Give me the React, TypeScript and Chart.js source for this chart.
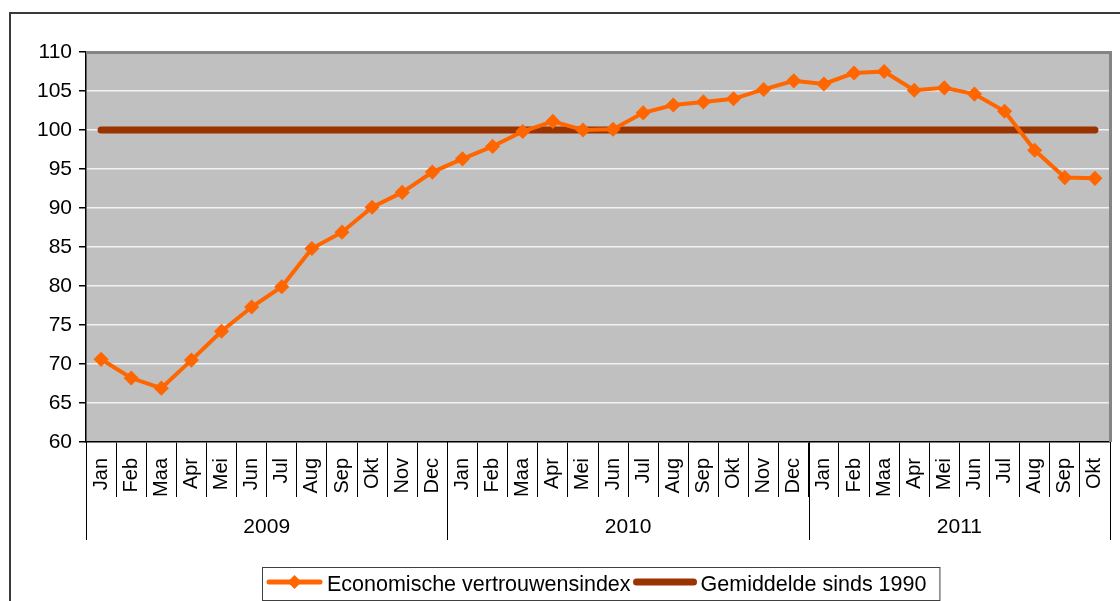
import React, { useEffect, useRef } from "react";
import { Chart, registerables } from "chart.js";

Chart.register(...registerables);

const categories = [
  "Jan", "Feb", "Maa", "Apr", "Mei", "Jun", "Jul", "Aug", "Sep", "Okt", "Nov", "Dec",
  "Jan", "Feb", "Maa", "Apr", "Mei", "Jun", "Jul", "Aug", "Sep", "Okt", "Nov", "Dec",
  "Jan", "Feb", "Maa", "Apr", "Mei", "Jun", "Jul", "Aug", "Sep", "Okt",
];
const years = ["2009", "2010", "2011"];
const monthsPerYear = [12, 12, 10];

const confidenceIndex = [
  70.6, 68.2, 66.9, 70.5, 74.2, 77.3, 79.9, 84.8, 86.9, 90.1, 92.0, 94.6,
  96.3, 97.9, 99.8, 101.1, 100.0, 100.1, 102.2, 103.2, 103.6, 104.0, 105.2, 106.3,
  105.9, 107.3, 107.5, 105.1, 105.4, 104.6, 102.4, 97.4, 93.9, 93.8,
];
const averageSince1990 = [
  100, 100, 100, 100, 100, 100, 100, 100, 100, 100, 100, 100,
  100, 100, 100, 100, 100, 100, 100, 100, 100, 100, 100, 100,
  100, 100, 100, 100, 100, 100, 100, 100, 100, 100,
];
const seriesLabels = ["Economische vertrouwensindex", "Gemiddelde sinds 1990"];
const yMin = 60;
const yMax = 110;
const yStep = 5;

const FONT = "'Liberation Sans', Arial, Helvetica, sans-serif";
const ORANGE = "#ff6600";
const BROWN = "#993300";

const decorPlugin = {
  id: "decor",
  beforeDraw(chart: any) {
    const { ctx, chartArea: a } = chart;
    ctx.save();
    ctx.strokeStyle = "#3a3a3a";
    ctx.lineWidth = 2;
    ctx.strokeRect(10, 13, 1300, 800);
    ctx.fillStyle = "#c0c0c0";
    ctx.fillRect(a.left, a.top, a.right - a.left, a.bottom - a.top);
    ctx.restore();
  },
  beforeDatasetsDraw(chart: any) {
    const { ctx, chartArea: a } = chart;
    ctx.save();
    ctx.strokeStyle = "#848484";
    ctx.lineWidth = 3;
    ctx.beginPath();
    ctx.moveTo(a.left, a.top + 0.5);
    ctx.lineTo(a.right + 0.5, a.top + 0.5);
    ctx.lineTo(a.right + 0.5, a.bottom);
    ctx.stroke();
    ctx.restore();
  },
  afterDraw(chart: any) {
    const { ctx, chartArea: a } = chart;
    const xs = chart.scales.x;
    const half = (xs.getPixelForTick(1) - xs.getPixelForTick(0)) / 2;
    ctx.save();
    // year separators and labels
    ctx.strokeStyle = "#000";
    ctx.lineWidth = 1;
    ctx.fillStyle = "#000";
    ctx.font = `21px ${FONT}`;
    ctx.textAlign = "center";
    ctx.textBaseline = "alphabetic";
    let start = 0;
    years.forEach((yr, i) => {
      const n = monthsPerYear[i];
      const left = xs.getPixelForTick(start) - half;
      const right = xs.getPixelForTick(start + n - 1) + half;
      [left, right].forEach((px) => {
        const x = Math.round(px) + 0.5;
        ctx.beginPath();
        ctx.moveTo(x, a.bottom);
        ctx.lineTo(x, a.bottom + 98);
        ctx.stroke();
      });
      ctx.fillText(yr, (left + right) / 2, a.bottom + 91);
      start += n;
    });

    // legend
    const ds = chart.data.datasets;
    ctx.font = `21.5px ${FONT}`;
    ctx.textAlign = "left";
    const boxLeft = 262;
    const boxTop = 567;
    const midY = 582;
    let x = boxLeft + 7;
    const items: { x0: number; x1: number; tx: number; tw: number }[] = [];
    ds.forEach((d: any, i: number) => {
      const tw = ctx.measureText(d.label).width;
      const x0 = x;
      const x1 = x + (i === 0 ? 51 : 57);
      const tx = x1 + 7;
      items.push({ x0, x1, tx, tw });
      x = tx + tw + 6;
    });
    const boxRight = x + 7;
    ctx.strokeStyle = "#404040";
    ctx.lineWidth = 1;
    ctx.strokeRect(boxLeft + 0.5, boxTop + 0.5, boxRight - boxLeft, 600 - boxTop);
    ds.forEach((d: any, i: number) => {
      const it = items[i];
      ctx.strokeStyle = d.borderColor;
      ctx.lineWidth = i === 0 ? 5 : 7;
      ctx.lineCap = "round";
      ctx.beginPath();
      ctx.moveTo(it.x0, midY);
      ctx.lineTo(it.x1, midY);
      ctx.stroke();
      if (d.pointRadius > 0) {
        const cx = (it.x0 + it.x1) / 2;
        const r = 7;
        ctx.fillStyle = d.pointBackgroundColor;
        ctx.beginPath();
        ctx.moveTo(cx - r, midY);
        ctx.lineTo(cx, midY - r);
        ctx.lineTo(cx + r, midY);
        ctx.lineTo(cx, midY + r);
        ctx.closePath();
        ctx.fill();
      }
      ctx.fillStyle = "#000";
      ctx.fillText(d.label, it.tx, 591);
    });
    ctx.restore();
  },
};

export default function App() {
  const ref = useRef<HTMLCanvasElement | null>(null);

  useEffect(() => {
    if (!ref.current) return;
    const chart = new Chart(ref.current, {
      type: "line",
      data: {
        labels: categories,
        datasets: [
          {
            label: seriesLabels[0],
            data: confidenceIndex,
            borderColor: ORANGE,
            backgroundColor: ORANGE,
            pointBackgroundColor: ORANGE,
            pointBorderColor: ORANGE,
            borderWidth: 4,
            pointStyle: "rectRot",
            pointRadius: 6.5,
            pointBorderWidth: 1.5,
            tension: 0,
          },
          {
            label: seriesLabels[1],
            data: averageSince1990,
            borderColor: BROWN,
            backgroundColor: BROWN,
            borderWidth: 7,
            borderCapStyle: "round",
            pointRadius: 0,
            tension: 0,
          },
        ],
      },
      options: {
        animation: false,
        responsive: false,
        maintainAspectRatio: false,
        events: [],
        layout: { padding: { top: 52, right: 10, left: 0, bottom: 0 } },
        plugins: {
          legend: { display: false },
          tooltip: { enabled: false },
          title: { display: false },
        },
        scales: {
          x: {
            type: "category",
            offset: true,
            grid: {
              offset: true,
              drawOnChartArea: false,
              drawTicks: true,
              tickLength: 55,
              tickColor: "#000",
              lineWidth: 1,
            },
            border: { display: true, color: "#000", width: 1.5 },
            ticks: {
              autoSkip: false,
              minRotation: 90,
              maxRotation: 90,
              padding: -39,
              color: "#000",
              font: { family: FONT, size: 20 },
            },
            afterFit(scale: any) {
              scale.height = 159;
            },
          },
          y: {
            min: yMin,
            max: yMax,
            grid: {
              color: "#f2f2f2",
              lineWidth: 1.5,
              tickColor: "#000",
              tickLength: 7,
            },
            border: { display: true, color: "#000", width: 1.5 },
            ticks: {
              stepSize: yStep,
              padding: 7,
              color: "#000",
              font: { family: FONT, size: 21 },
            },
            afterFit(scale: any) {
              scale.width = 86;
            },
          },
        },
      },
      plugins: [decorPlugin],
    } as any);
    return () => chart.destroy();
  }, []);

  return (
    <div style={{ position: "absolute", left: 0, top: 0, width: 1120, height: 601 }}>
      <canvas ref={ref} width={1120} height={601} style={{ display: "block" }} />
    </div>
  );
}
